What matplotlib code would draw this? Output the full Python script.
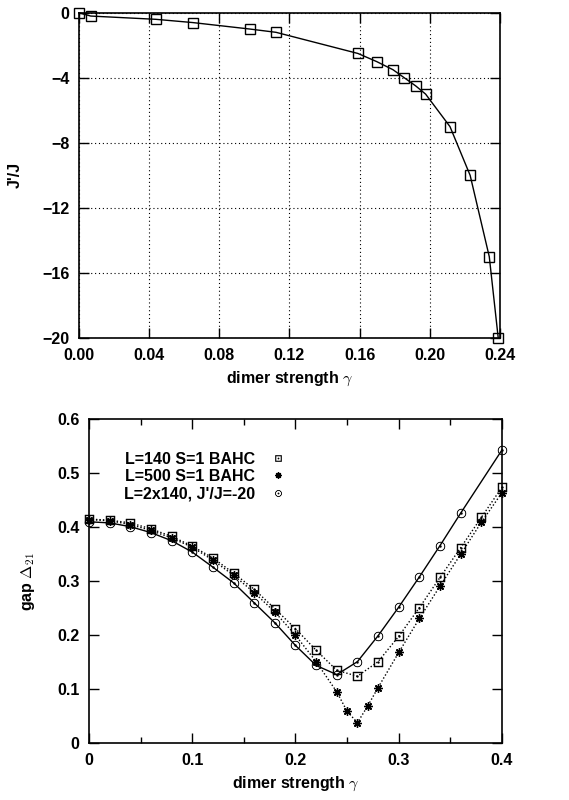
import matplotlib
matplotlib.use('Agg')
import matplotlib.pyplot as plt
from matplotlib.ticker import MultipleLocator

plt.rcParams['font.family'] = 'Liberation Sans'
plt.rcParams['font.weight'] = 'bold'
plt.rcParams['axes.labelweight'] = 'bold'
plt.rcParams['mathtext.fontset'] = 'cm'

# J'/J versus dimer strength
gamma_j = [0.0, 0.0067, 0.0437, 0.0648, 0.0975, 0.1123, 0.159, 0.1697,
           0.179, 0.1855, 0.192, 0.1976, 0.2115, 0.223, 0.2339, 0.239]
jratio = [0.0, -0.2, -0.4, -0.6, -1.0, -1.2, -2.5, -3.0,
          -3.5, -4.0, -4.5, -5.0, -7.0, -10.0, -15.0, -20.0]

# gap Delta_21 versus dimer strength
gamma_140 = [0.0, 0.02, 0.04, 0.06, 0.08, 0.10, 0.12, 0.14, 0.16, 0.18, 0.20,
             0.22, 0.24, 0.26, 0.28, 0.30, 0.32, 0.34, 0.36, 0.38, 0.40]
gap_140 = [0.415, 0.413, 0.408, 0.397, 0.383, 0.365, 0.343, 0.315, 0.285, 0.249, 0.212,
           0.172, 0.135, 0.124, 0.151, 0.198, 0.251, 0.307, 0.362, 0.418, 0.474]

gamma_500 = [0.0, 0.02, 0.04, 0.06, 0.08, 0.10, 0.12, 0.14, 0.16, 0.18, 0.20,
             0.22, 0.24, 0.25, 0.26, 0.27, 0.28, 0.30, 0.32, 0.34, 0.36, 0.38, 0.40]
gap_500 = [0.414, 0.412, 0.405, 0.394, 0.380, 0.363, 0.339, 0.311, 0.279, 0.243, 0.200,
           0.151, 0.095, 0.059, 0.038, 0.069, 0.103, 0.168, 0.231, 0.291, 0.350, 0.409, 0.464]

gamma_2x140 = [0.0, 0.02, 0.04, 0.06, 0.08, 0.10, 0.12, 0.14, 0.16, 0.18, 0.20,
               0.22, 0.24, 0.26, 0.28, 0.30, 0.32, 0.34, 0.36, 0.40]
gap_2x140 = [0.410, 0.408, 0.401, 0.390, 0.375, 0.354, 0.326, 0.297, 0.260, 0.223, 0.181,
             0.144, 0.127, 0.151, 0.199, 0.252, 0.308, 0.366, 0.426, 0.543]

fig = plt.figure(figsize=(5.69, 8.0), dpi=100)
ax1 = fig.add_axes([0.1388, 0.5775, 0.7399, 0.4065])
ax2 = fig.add_axes([0.1564, 0.071, 0.7258, 0.405])

fs = 11.5

ax1.plot(gamma_j, jratio, color='black', lw=1.0, marker='s', ms=7.5,
         mfc='none', mec='black', mew=1.0, clip_on=False, zorder=3)
ax1.set_xlim(0, 0.24)
ax1.set_ylim(-20, 0)
ax1.xaxis.set_major_locator(MultipleLocator(0.04))
ax1.yaxis.set_major_locator(MultipleLocator(4))
ax1.xaxis.set_major_formatter(plt.FormatStrFormatter('%.2f'))
ax1.grid(True, color='black', ls=(0, (1, 2.5)), lw=0.8)
ax1.set_xlabel(r'dimer strength $\gamma$', fontsize=fs, labelpad=5)
ax1.set_ylabel("J'/J", fontsize=fs, labelpad=14)

ax2.plot(gamma_140, gap_140, color='black', lw=1.0, ls=(0, (1, 1.5)),
         marker=r'$\boxdot$', ms=6.5, mew=0.3, label='L=140 S=1 BAHC', clip_on=False)
ax2.plot(gamma_500, gap_500, color='black', lw=1.0, ls=(0, (1, 1.5)),
         marker=(8, 2, 0), ms=6, mew=1.0, label='L=500 S=1 BAHC', clip_on=False)
ax2.plot(gamma_2x140, gap_2x140, color='black', lw=1.0, ls='-',
         marker=r'$\odot$', ms=6.5, mew=0.3, label="L=2x140, J'/J=-20", clip_on=False)
ax2.set_xlim(0, 0.4)
ax2.set_ylim(0, 0.6)
ax2.xaxis.set_major_locator(MultipleLocator(0.1))
ax2.xaxis.set_minor_locator(MultipleLocator(0.05))
ax2.yaxis.set_major_locator(MultipleLocator(0.1))
ax2.xaxis.set_major_formatter(plt.FuncFormatter(lambda v, p: '0' if v == 0 else '%.1f' % v))
ax2.yaxis.set_major_formatter(plt.FuncFormatter(lambda v, p: '0' if v == 0 else '%.1f' % v))
ax2.set_xlabel(r'dimer strength $\gamma$', fontsize=fs, labelpad=5)
ax2.set_ylabel(r'gap $\Delta_{21}$', fontsize=fs, labelpad=14)
leg = ax2.legend(loc='upper left', bbox_to_anchor=(0.07, 0.92), frameon=False,
                 markerfirst=False, fontsize=fs, handlelength=1.2, handletextpad=0.8,
                 labelspacing=0.15, borderaxespad=0)
for h in leg.legend_handles:
    h.set_linestyle('none')
    h.set_markersize(4.5)
for t in leg.get_texts():
    t.set_ha('right')
leg._legend_box.align = 'right'

for ax in (ax1, ax2):
    ax.tick_params(which='both', direction='in', top=True, right=True,
                   labelsize=fs, pad=7)
    ax.tick_params(which='major', length=7, width=1.0)
    ax.tick_params(which='minor', length=4, width=1.0)
    for lab in ax.get_xticklabels() + ax.get_yticklabels():
        lab.set_fontweight('bold')
    for s in ax.spines.values():
        s.set_linewidth(1.2)

plt.savefig('out.png')
